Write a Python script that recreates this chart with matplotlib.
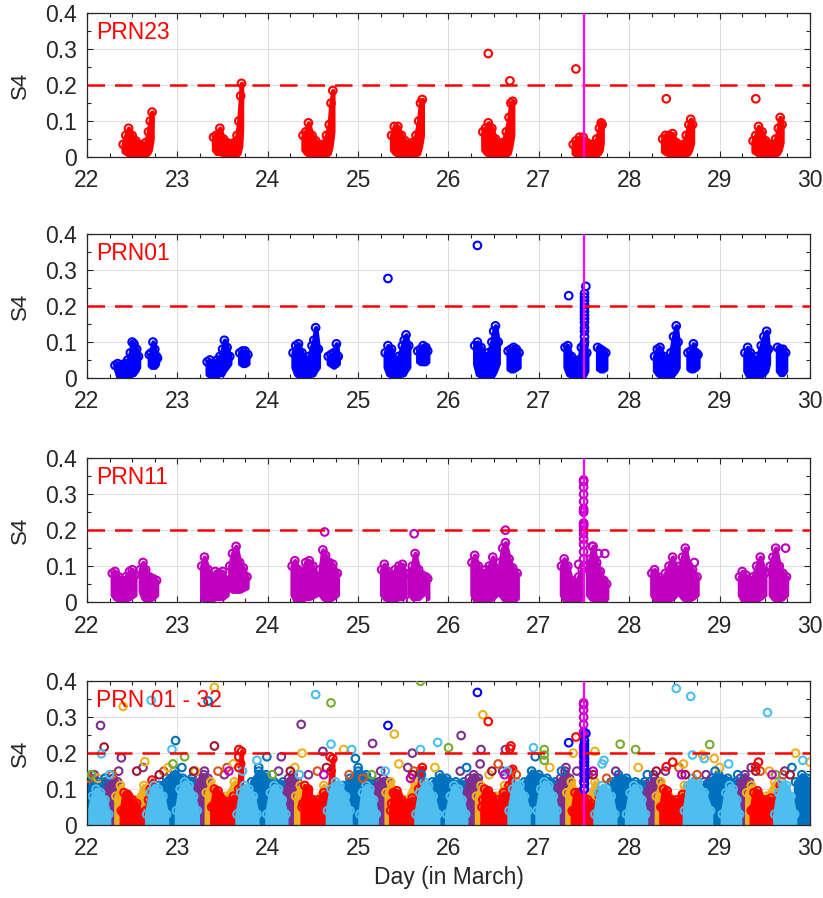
import matplotlib.pyplot as plt
from matplotlib.ticker import MultipleLocator, FuncFormatter

plt.rcParams['font.family'] = ['Liberation Sans', 'DejaVu Sans']

# colores
RED = '#FF0000'
BLUE = '#0000FF'
MAG = '#BF00BF'
C_DBLUE = '#0072BD'
C_ORANGE = '#D95319'
C_YELLOW = '#EDB120'
C_PURPLE = '#7E2F8E'
C_GREEN = '#77AC30'
C_LBLUE = '#4DBEEE'
C_DRED = '#A2142F'

# ---------------- PRN23 (one pass per day: t, lower and upper edge of the cloud)
prn23_t = [
    [22.40, 22.43, 22.46, 22.50, 22.54, 22.58, 22.62, 22.65, 22.68, 22.70, 22.72],
    [23.40, 23.43, 23.47, 23.51, 23.55, 23.59, 23.63, 23.66, 23.68, 23.70, 23.71],
    [24.39, 24.42, 24.45, 24.49, 24.53, 24.57, 24.61, 24.65, 24.68, 24.70, 24.72],
    [25.37, 25.40, 25.44, 25.48, 25.52, 25.56, 25.60, 25.64, 25.67, 25.69, 25.71],
    [26.38, 26.41, 26.44, 26.48, 26.52, 26.56, 26.60, 26.64, 26.67, 26.69, 26.71],
    [27.38, 27.41, 27.45, 27.49, 27.53, 27.57, 27.61, 27.64, 27.67, 27.69, 27.70],
    [28.37, 28.40, 28.44, 28.48, 28.52, 28.56, 28.60, 28.63, 28.66, 28.68, 28.70],
    [29.37, 29.40, 29.43, 29.47, 29.51, 29.55, 29.59, 29.62, 29.65, 29.67, 29.69],
]
prn23_hi = [
    [0.035, 0.06, 0.08, 0.06, 0.045, 0.035, 0.03, 0.04, 0.07, 0.10, 0.125],
    [0.055, 0.06, 0.08, 0.05, 0.04, 0.035, 0.04, 0.06, 0.10, 0.17, 0.205],
    [0.06, 0.07, 0.095, 0.06, 0.045, 0.03, 0.035, 0.06, 0.09, 0.15, 0.185],
    [0.06, 0.085, 0.085, 0.06, 0.045, 0.035, 0.04, 0.06, 0.10, 0.15, 0.16],
    [0.07, 0.08, 0.095, 0.08, 0.05, 0.035, 0.04, 0.07, 0.11, 0.15, 0.155],
    [0.035, 0.045, 0.055, 0.055, 0.04, 0.035, 0.035, 0.05, 0.08, 0.095, 0.09],
    [0.05, 0.06, 0.06, 0.065, 0.04, 0.03, 0.035, 0.06, 0.09, 0.105, 0.09],
    [0.045, 0.06, 0.085, 0.07, 0.045, 0.035, 0.035, 0.05, 0.08, 0.11, 0.09],
]
prn23_lo = [
    [0.015, 0.01, 0.005, 0.005, 0.005, 0.0, 0.0, 0.005, 0.01, 0.02, 0.05],
    [0.02, 0.01, 0.01, 0.005, 0.0, 0.0, 0.0, 0.005, 0.01, 0.03, 0.08],
    [0.02, 0.01, 0.005, 0.005, 0.0, 0.0, 0.0, 0.005, 0.01, 0.03, 0.07],
    [0.02, 0.01, 0.005, 0.005, 0.0, 0.0, 0.0, 0.005, 0.01, 0.03, 0.06],
    [0.02, 0.01, 0.005, 0.005, 0.0, 0.0, 0.0, 0.005, 0.01, 0.03, 0.06],
    [0.01, 0.005, 0.005, 0.0, 0.0, 0.0, 0.0, 0.005, 0.01, 0.02, 0.04],
    [0.015, 0.01, 0.005, 0.0, 0.0, 0.0, 0.0, 0.005, 0.01, 0.02, 0.04],
    [0.015, 0.01, 0.005, 0.0, 0.0, 0.0, 0.0, 0.005, 0.01, 0.02, 0.04],
]
prn23_out_t = [26.44, 26.68, 27.41, 28.41, 29.40]
prn23_out_s4 = [0.288, 0.212, 0.245, 0.162, 0.162]

# ---------------- PRN01 (main pass + short second pass each day)
prn01_t = [
    [22.31, 22.34, 22.38, 22.42, 22.45, 22.48, 22.50, 22.52, 22.55, 22.57],
    [22.69, 22.71, 22.73, 22.75, 22.77, 22.78],
    [23.33, 23.36, 23.40, 23.44, 23.47, 23.50, 23.52, 23.55, 23.58],
    [23.69, 23.72, 23.75, 23.78],
    [24.28, 24.31, 24.34, 24.38, 24.42, 24.46, 24.49, 24.51, 24.53, 24.56],
    [24.67, 24.70, 24.73, 24.76, 24.78],
    [25.30, 25.33, 25.37, 25.41, 25.45, 25.49, 25.51, 25.53, 25.56],
    [25.66, 25.69, 25.72, 25.75, 25.77],
    [26.29, 26.32, 26.36, 26.40, 26.44, 26.48, 26.50, 26.52, 26.55],
    [26.66, 26.69, 26.72, 26.75, 26.78],
    [27.29, 27.32, 27.36, 27.40, 27.44, 27.47, 27.50, 27.53],
    [27.65, 27.68, 27.71, 27.74],
    [28.28, 28.31, 28.34, 28.38, 28.42, 28.46, 28.49, 28.52, 28.54],
    [28.65, 28.68, 28.71, 28.74, 28.76],
    [29.28, 29.31, 29.34, 29.38, 29.42, 29.46, 29.49, 29.52, 29.54],
    [29.64, 29.67, 29.70, 29.73],
]
prn01_hi = [
    [0.035, 0.04, 0.035, 0.04, 0.05, 0.07, 0.10, 0.095, 0.08, 0.06],
    [0.065, 0.07, 0.10, 0.08, 0.06, 0.055],
    [0.045, 0.05, 0.04, 0.05, 0.06, 0.08, 0.105, 0.085, 0.06],
    [0.07, 0.075, 0.075, 0.065],
    [0.07, 0.09, 0.095, 0.07, 0.05, 0.06, 0.09, 0.105, 0.14, 0.08],
    [0.06, 0.065, 0.07, 0.095, 0.06],
    [0.07, 0.09, 0.08, 0.05, 0.06, 0.09, 0.105, 0.12, 0.09],
    [0.075, 0.08, 0.09, 0.085, 0.075],
    [0.09, 0.10, 0.085, 0.06, 0.07, 0.10, 0.13, 0.145, 0.10],
    [0.075, 0.08, 0.085, 0.08, 0.07],
    [0.085, 0.09, 0.06, 0.045, 0.05, 0.085, 0.09, 0.07],
    [0.085, 0.08, 0.075, 0.07],
    [0.06, 0.08, 0.085, 0.06, 0.05, 0.07, 0.115, 0.145, 0.10],
    [0.07, 0.075, 0.095, 0.07, 0.065],
    [0.07, 0.085, 0.07, 0.05, 0.06, 0.09, 0.115, 0.13, 0.08],
    [0.085, 0.08, 0.08, 0.07],
]
prn01_lo = [
    [0.03, 0.005, 0.005, 0.005, 0.005, 0.005, 0.01, 0.01, 0.02, 0.03],
    [0.035, 0.03, 0.03, 0.03, 0.035, 0.04],
    [0.01, 0.005, 0.0, 0.005, 0.01, 0.01, 0.02, 0.03, 0.04],
    [0.04, 0.035, 0.035, 0.04],
    [0.03, 0.01, 0.005, 0.005, 0.005, 0.005, 0.01, 0.01, 0.02, 0.03],
    [0.04, 0.035, 0.03, 0.035, 0.04],
    [0.03, 0.01, 0.005, 0.005, 0.005, 0.01, 0.01, 0.02, 0.03],
    [0.045, 0.04, 0.04, 0.04, 0.045],
    [0.04, 0.01, 0.005, 0.0, 0.0, 0.005, 0.01, 0.02, 0.04],
    [0.025, 0.02, 0.02, 0.025, 0.03],
    [0.03, 0.01, 0.005, 0.0, 0.0, 0.0, 0.005, 0.02],
    [0.025, 0.02, 0.02, 0.025],
    [0.02, 0.01, 0.005, 0.0, 0.0, 0.005, 0.01, 0.02, 0.03],
    [0.025, 0.02, 0.02, 0.025, 0.03],
    [0.02, 0.005, 0.0, 0.0, 0.0, 0.005, 0.01, 0.02, 0.04],
    [0.02, 0.01, 0.01, 0.02],
]
prn01_spike_t = 27.505
prn01_spike_s4 = [0.10, 0.115, 0.13, 0.14, 0.155, 0.165, 0.175, 0.185,
                  0.195, 0.205, 0.215, 0.225, 0.235]
prn01_out_t = [25.33, 26.32, 27.33, 27.52]
prn01_out_s4 = [0.277, 0.369, 0.229, 0.255]

# ---------------- PRN11 (two passes per day)
prn11_t = [
    [22.28, 22.31, 22.35, 22.39, 22.43, 22.47, 22.50, 22.53],
    [22.59, 22.62, 22.65, 22.69, 22.73, 22.77],
    [23.27, 23.30, 23.34, 23.38, 23.42, 23.46, 23.50, 23.55],
    [23.58, 23.61, 23.65, 23.69, 23.73, 23.77],
    [24.27, 24.30, 24.34, 24.38, 24.42, 24.46, 24.50, 24.54],
    [24.58, 24.61, 24.64, 24.68, 24.72, 24.77],
    [25.26, 25.29, 25.33, 25.37, 25.41, 25.45, 25.49, 25.52],
    [25.57, 25.60, 25.63, 25.67, 25.71, 25.75, 25.77],
    [26.26, 26.29, 26.33, 26.37, 26.41, 26.45, 26.49, 26.53],
    [26.57, 26.60, 26.63, 26.67, 26.71, 26.76],
    [27.25, 27.28, 27.32, 27.36, 27.40, 27.44, 27.48],
    [27.54, 27.57, 27.60, 27.64, 27.68, 27.72, 27.75],
    [28.25, 28.28, 28.32, 28.36, 28.40, 28.44, 28.48, 28.52],
    [28.56, 28.59, 28.62, 28.66, 28.70, 28.75],
    [29.22, 29.25, 29.29, 29.33, 29.37, 29.41, 29.45, 29.50],
    [29.56, 29.59, 29.62, 29.66, 29.70, 29.74],
]
prn11_hi = [
    [0.08, 0.085, 0.07, 0.06, 0.07, 0.085, 0.09, 0.075],
    [0.09, 0.11, 0.09, 0.07, 0.065, 0.06],
    [0.10, 0.125, 0.09, 0.07, 0.085, 0.08, 0.085, 0.06],
    [0.10, 0.135, 0.155, 0.11, 0.095, 0.07],
    [0.10, 0.115, 0.09, 0.08, 0.11, 0.115, 0.10, 0.07],
    [0.09, 0.145, 0.13, 0.11, 0.105, 0.08],
    [0.09, 0.105, 0.085, 0.07, 0.09, 0.10, 0.105, 0.08],
    [0.08, 0.10, 0.135, 0.09, 0.075, 0.07, 0.065],
    [0.11, 0.13, 0.10, 0.08, 0.09, 0.10, 0.125, 0.09],
    [0.11, 0.15, 0.165, 0.12, 0.095, 0.08],
    [0.10, 0.12, 0.10, 0.06, 0.05, 0.07, 0.09],
    [0.10, 0.12, 0.155, 0.11, 0.085, 0.06, 0.05],
    [0.08, 0.09, 0.07, 0.06, 0.08, 0.10, 0.125, 0.09],
    [0.10, 0.125, 0.15, 0.10, 0.09, 0.07],
    [0.07, 0.085, 0.075, 0.06, 0.07, 0.10, 0.125, 0.08],
    [0.10, 0.125, 0.15, 0.10, 0.08, 0.07],
]
prn11_lo = [
    [0.02, 0.01, 0.005, 0.005, 0.005, 0.01, 0.015, 0.02],
    [0.03, 0.01, 0.005, 0.005, 0.01, 0.02],
    [0.01, 0.0, 0.0, 0.005, 0.01, 0.01, 0.01, 0.02],
    [0.035, 0.03, 0.03, 0.03, 0.035, 0.04],
    [0.02, 0.005, 0.0, 0.005, 0.01, 0.01, 0.015, 0.02],
    [0.02, 0.01, 0.005, 0.005, 0.01, 0.02],
    [0.02, 0.01, 0.005, 0.005, 0.005, 0.01, 0.01, 0.02],
    [0.02, 0.01, 0.01, 0.01, 0.02, 0.03, 0.01],
    [0.02, 0.005, 0.0, 0.0, 0.005, 0.005, 0.01, 0.02],
    [0.02, 0.01, 0.0, 0.0, 0.005, 0.01],
    [0.02, 0.005, 0.0, 0.0, 0.0, 0.005, 0.01],
    [0.02, 0.01, 0.005, 0.0, 0.0, 0.005, 0.01],
    [0.02, 0.005, 0.0, 0.0, 0.0, 0.005, 0.01, 0.02],
    [0.02, 0.01, 0.005, 0.005, 0.01, 0.02],
    [0.02, 0.005, 0.0, 0.0, 0.0, 0.005, 0.01, 0.02],
    [0.02, 0.01, 0.005, 0.005, 0.01, 0.02],
]
prn11_spike_t = 27.495
prn11_spike_s4 = [0.10, 0.12, 0.14, 0.16, 0.175, 0.19, 0.20, 0.21, 0.215, 0.22,
                  0.25, 0.255, 0.26, 0.28, 0.30, 0.32, 0.335, 0.34]
prn11_out_t = [24.63, 25.62, 25.58, 26.63, 27.44, 27.59, 27.66, 27.73, 28.72, 29.73]
prn11_out_s4 = [0.195, 0.19, 0.005, 0.20, 0.105, 0.155, 0.135, 0.135, 0.11, 0.15]

# ---------------- PRN 01 - 32 (all satellites)
bot_dblue_t = [
    [21.99, 22.05, 22.12, 22.20, 22.28],
    [22.80, 22.88, 22.97, 23.06, 23.16, 23.27],
    [23.82, 23.90, 23.98, 24.07, 24.17, 24.27],
    [24.83, 24.91, 25.00, 25.09, 25.18, 25.27],
    [25.82, 25.90, 25.98, 26.08, 26.17, 26.27],
    [26.84, 26.92, 27.00, 27.09, 27.18, 27.28],
    [27.80, 27.88, 27.97, 28.07, 28.17, 28.27],
    [28.83, 28.91, 28.99, 29.09, 29.18, 29.27],
    [29.84, 29.91, 29.97, 30.01],
]
bot_dblue_hi = [
    [0.12, 0.13, 0.12, 0.13, 0.10],
    [0.11, 0.13, 0.15, 0.13, 0.13, 0.10],
    [0.12, 0.15, 0.14, 0.12, 0.12, 0.09],
    [0.11, 0.13, 0.15, 0.14, 0.12, 0.10],
    [0.12, 0.14, 0.13, 0.12, 0.12, 0.09],
    [0.12, 0.15, 0.14, 0.13, 0.12, 0.10],
    [0.12, 0.14, 0.13, 0.12, 0.12, 0.09],
    [0.12, 0.13, 0.14, 0.13, 0.12, 0.10],
    [0.12, 0.14, 0.13, 0.12],
]
bot_purple_t = [
    [22.19, 22.24, 22.29, 22.34, 22.40],
    [23.19, 23.24, 23.29, 23.34, 23.40],
    [24.18, 24.23, 24.28, 24.33, 24.39],
    [25.18, 25.23, 25.28, 25.33, 25.39],
    [26.18, 26.23, 26.28, 26.33, 26.39],
    [27.19, 27.24, 27.29, 27.34, 27.40],
    [28.18, 28.23, 28.28, 28.33, 28.39],
    [29.18, 29.23, 29.28, 29.33, 29.39],
]
bot_purple_hi = [
    [0.09, 0.12, 0.13, 0.12, 0.08],
    [0.10, 0.13, 0.14, 0.13, 0.09],
    [0.09, 0.13, 0.14, 0.12, 0.08],
    [0.10, 0.12, 0.13, 0.12, 0.08],
    [0.09, 0.13, 0.14, 0.13, 0.09],
    [0.10, 0.13, 0.15, 0.13, 0.09],
    [0.09, 0.12, 0.13, 0.12, 0.08],
    [0.10, 0.13, 0.14, 0.12, 0.09],
]
bot_yellow_t = [
    [22.32, 22.37, 22.46, 22.54, 22.63, 22.70],
    [23.32, 23.37, 23.46, 23.54, 23.63, 23.70],
    [24.31, 24.36, 24.45, 24.53, 24.62, 24.69],
    [25.31, 25.36, 25.45, 25.53, 25.62, 25.69],
    [26.31, 26.36, 26.45, 26.53, 26.62, 26.69],
    [27.31, 27.36, 27.45, 27.53, 27.62, 27.69],
    [28.30, 28.35, 28.44, 28.52, 28.61, 28.68],
    [29.30, 29.35, 29.44, 29.52, 29.61, 29.68],
]
bot_yellow_hi = [
    [0.08, 0.11, 0.08, 0.07, 0.11, 0.07],
    [0.09, 0.12, 0.08, 0.08, 0.12, 0.08],
    [0.08, 0.11, 0.08, 0.07, 0.11, 0.07],
    [0.09, 0.12, 0.08, 0.07, 0.12, 0.08],
    [0.08, 0.11, 0.08, 0.08, 0.11, 0.07],
    [0.09, 0.12, 0.08, 0.07, 0.12, 0.08],
    [0.08, 0.12, 0.08, 0.07, 0.11, 0.07],
    [0.09, 0.11, 0.08, 0.08, 0.12, 0.08],
]
bot_red_t = [
    [22.38, 22.41, 22.45, 22.50, 22.55, 22.59],
    [23.38, 23.41, 23.45, 23.50, 23.56, 23.62, 23.66],
    [24.38, 24.41, 24.45, 24.50, 24.56, 24.62, 24.66],
    [25.36, 25.39, 25.43, 25.48, 25.54, 25.60, 25.64],
    [26.37, 26.40, 26.44, 26.49, 26.55, 26.61, 26.65],
    [27.37, 27.40, 27.44, 27.49, 27.54, 27.58, 27.62],
    [28.35, 28.38, 28.42, 28.47, 28.53, 28.59, 28.64],
    [29.35, 29.38, 29.42, 29.47, 29.52, 29.57, 29.61],
]
bot_red_hi = [
    [0.04, 0.09, 0.085, 0.07, 0.06, 0.03],
    [0.05, 0.10, 0.095, 0.07, 0.065, 0.08, 0.04],
    [0.05, 0.11, 0.10, 0.07, 0.07, 0.09, 0.05],
    [0.04, 0.09, 0.095, 0.07, 0.06, 0.075, 0.04],
    [0.05, 0.10, 0.095, 0.07, 0.07, 0.09, 0.05],
    [0.04, 0.09, 0.09, 0.08, 0.07, 0.06, 0.03],
    [0.05, 0.10, 0.095, 0.07, 0.07, 0.085, 0.04],
    [0.04, 0.09, 0.095, 0.07, 0.07, 0.075, 0.04],
]
bot_lblue_t = [
    [22.02, 22.06, 22.10, 22.15, 22.20, 22.24],
    [22.66, 22.70, 22.74, 22.79, 22.84, 22.88],
    [22.99, 23.03, 23.08, 23.13, 23.18, 23.22],
    [23.66, 23.70, 23.74, 23.79, 23.84, 23.88],
    [23.99, 24.03, 24.07, 24.12, 24.16, 24.20],
    [24.66, 24.70, 24.75, 24.80, 24.86, 24.91],
    [25.02, 25.05, 25.09, 25.13, 25.17, 25.20],
    [25.64, 25.68, 25.73, 25.78, 25.83, 25.88],
    [25.98, 26.02, 26.06, 26.11, 26.15, 26.19],
    [26.67, 26.71, 26.75, 26.79, 26.84, 26.88],
    [26.98, 27.02, 27.06, 27.11, 27.16, 27.20],
    [27.62, 27.66, 27.70, 27.75, 27.80, 27.84],
    [27.97, 28.01, 28.05, 28.10, 28.14, 28.18],
    [28.61, 28.65, 28.70, 28.76, 28.83, 28.90],
    [29.03, 29.07, 29.11, 29.15, 29.19, 29.22],
    [29.61, 29.65, 29.69, 29.74, 29.79, 29.83],
]
bot_lblue_hi = [
    [0.03, 0.08, 0.10, 0.09, 0.07, 0.03],
    [0.03, 0.09, 0.11, 0.10, 0.08, 0.03],
    [0.04, 0.10, 0.12, 0.11, 0.08, 0.04],
    [0.03, 0.09, 0.11, 0.10, 0.08, 0.03],
    [0.03, 0.09, 0.11, 0.10, 0.07, 0.03],
    [0.04, 0.10, 0.12, 0.11, 0.08, 0.04],
    [0.03, 0.09, 0.11, 0.10, 0.07, 0.03],
    [0.03, 0.09, 0.12, 0.11, 0.08, 0.03],
    [0.03, 0.08, 0.11, 0.10, 0.07, 0.03],
    [0.04, 0.10, 0.12, 0.11, 0.08, 0.04],
    [0.04, 0.10, 0.12, 0.11, 0.08, 0.04],
    [0.03, 0.09, 0.11, 0.10, 0.08, 0.03],
    [0.03, 0.09, 0.11, 0.10, 0.07, 0.03],
    [0.04, 0.11, 0.13, 0.12, 0.09, 0.04],
    [0.03, 0.09, 0.11, 0.10, 0.07, 0.03],
    [0.03, 0.09, 0.12, 0.11, 0.08, 0.03],
]

# circles sticking out of the band (0.13 - 0.40), by colour
bot_pts_t = {
    C_PURPLE: [22.08, 22.15, 22.35, 22.38, 22.62, 23.30, 23.52, 24.12, 24.15, 24.37, 24.45, 24.61,
               25.16, 25.25, 25.55, 25.60, 26.13, 26.14, 26.35, 26.36, 26.60, 26.63, 27.30, 27.42,
               27.85, 28.27, 28.40, 28.85, 29.35, 29.72],
    C_ORANGE: [22.02, 22.28, 22.85, 23.45, 23.55, 24.55, 24.90, 25.05, 25.62, 26.55, 26.75,
               27.55, 27.75, 28.55, 28.75, 29.45, 29.70],
    C_YELLOW: [22.40, 23.41, 22.64, 24.38, 24.84, 25.40, 26.38, 27.38, 27.62, 28.81, 28.94, 29.84,
               30.00, 22.12, 22.90, 23.20, 23.62, 24.30, 25.45, 25.85, 26.45, 27.12, 28.10,
               28.60, 29.00, 29.55],
    C_GREEN: [25.69, 24.70, 23.08, 26.00, 27.06, 27.06, 27.06, 27.90, 28.07, 28.89, 22.05, 22.95,
              24.05, 25.15, 29.62],
    C_DBLUE: [23.34, 22.98, 23.99, 24.97, 26.96, 22.20, 23.05, 23.90, 25.00, 25.70, 26.20,
              27.25, 28.20, 28.95, 29.20, 29.80],
    C_DRED: [22.19, 23.41, 22.55, 22.80, 23.18, 24.25, 24.65, 25.60, 26.48, 27.60, 28.30, 28.62,
             29.40, 29.78],
    C_LBLUE: [22.71, 24.53, 28.52, 28.68, 29.53, 22.16, 22.94, 23.88, 24.70, 24.93, 25.88, 25.69,
              26.94, 27.72, 28.83, 28.70, 29.92, 22.25, 23.72, 24.35, 25.30, 26.65, 27.70, 29.10],
    RED: [23.68, 23.68, 23.68, 24.69, 26.69, 28.48, 29.43],
    MAG: [23.57, 24.62, 25.58, 26.62, 27.60, 28.58, 29.58],
}
bot_pts_s4 = {
    C_PURPLE: [0.14, 0.277, 0.15, 0.187, 0.16, 0.15, 0.14, 0.15, 0.19, 0.28, 0.14, 0.205,
               0.227, 0.15, 0.16, 0.20, 0.15, 0.249, 0.17, 0.21, 0.15, 0.21, 0.16, 0.15,
               0.15, 0.14, 0.15, 0.14, 0.16, 0.15],
    C_ORANGE: [0.13, 0.14, 0.15, 0.15, 0.16, 0.15, 0.14, 0.13, 0.15, 0.17, 0.14,
               0.14, 0.13, 0.16, 0.14, 0.15, 0.14],
    C_YELLOW: [0.33, 0.383, 0.176, 0.20, 0.21, 0.253, 0.307, 0.20, 0.205, 0.195, 0.185, 0.20,
               0.175, 0.13, 0.16, 0.15, 0.17, 0.16, 0.17, 0.16, 0.14, 0.16, 0.16,
               0.17, 0.16, 0.15],
    C_GREEN: [0.40, 0.34, 0.19, 0.215, 0.21, 0.195, 0.18, 0.225, 0.21, 0.224, 0.14, 0.17,
              0.14, 0.14, 0.14],
    C_DBLUE: [0.345, 0.235, 0.19, 0.185, 0.19, 0.13, 0.16, 0.16, 0.16, 0.14, 0.16,
              0.15, 0.14, 0.15, 0.14, 0.16],
    C_DRED: [0.217, 0.22, 0.15, 0.14, 0.15, 0.15, 0.16, 0.14, 0.15, 0.14, 0.15, 0.14,
             0.15, 0.14],
    C_LBLUE: [0.347, 0.363, 0.38, 0.358, 0.313, 0.198, 0.21, 0.18, 0.225, 0.21, 0.23, 0.21,
              0.215, 0.18, 0.185, 0.195, 0.18, 0.14, 0.15, 0.14, 0.15, 0.15, 0.17, 0.17],
    RED: [0.16, 0.19, 0.21, 0.19, 0.22, 0.175, 0.175],
    MAG: [0.15, 0.14, 0.13, 0.14, 0.15, 0.14, 0.14],
}

MS = 30      # scatter marker area
MLW = 1.5


def cloud(ax, t, lo, hi, color, z=2):
    # dense scatter cloud: filled body + circles along the top edge
    ax.fill_between(t, lo, hi, color=color, lw=3.2, joinstyle='round', zorder=z)
    ax.scatter(t, hi, s=MS, facecolors='none', edgecolors=color, linewidths=MLW, zorder=z)


def circles(ax, t, s4, color, z=3):
    ax.scatter(t, s4, s=MS, facecolors='none', edgecolors=color, linewidths=MLW, zorder=z)


def style(ax, title):
    ax.set_xlim(22, 30)
    ax.set_ylim(0, 0.4)
    ax.xaxis.set_major_locator(MultipleLocator(1))
    ax.xaxis.set_minor_locator(MultipleLocator(0.25))
    ax.yaxis.set_major_locator(MultipleLocator(0.1))
    ax.yaxis.set_minor_locator(MultipleLocator(0.05))
    ax.yaxis.set_major_formatter(FuncFormatter(lambda v, p: f'{v:g}'))
    ax.grid(True, which='major', color='#dedede', lw=0.8, zorder=0)
    ax.set_axisbelow(True)
    ax.tick_params(which='both', direction='in', top=True, right=True,
                   labelsize=16.5, colors='#262626', width=0.8)
    ax.tick_params(which='major', length=4.5)
    ax.tick_params(which='minor', length=3)
    ax.tick_params(axis='x', pad=9)
    ax.tick_params(axis='y', pad=7)
    for s in ax.spines.values():
        s.set_color('#262626')
        s.set_linewidth(0.9)
    ax.set_ylabel('S4', fontsize=16, color='#262626')
    ax.yaxis.set_label_coords(-0.078, 0.5)
    ax.axhline(0.2, color=RED, lw=1.8, ls=(0, (7, 4)), zorder=5)
    ax.axvline(27.5, color='#FF00FF', lw=1.6, zorder=6)
    ax.text(0.012, 0.865, title, transform=ax.transAxes, color=RED, fontsize=16.5,
            va='center', ha='left', zorder=4)


fig = plt.figure(figsize=(8.23, 8.98), dpi=100)
L, W, H = 0.1057, 0.8785, 0.160
ax1 = fig.add_axes([L, 0.8252, W, H])
ax2 = fig.add_axes([L, 0.5791, W, H])
ax3 = fig.add_axes([L, 0.3296, W, H])
ax4 = fig.add_axes([L, 0.0813, W, H])

# PRN23
for t, lo, hi in zip(prn23_t, prn23_lo, prn23_hi):
    cloud(ax1, t, lo, hi, RED)
circles(ax1, prn23_out_t, prn23_out_s4, RED)

# PRN01
for t, lo, hi in zip(prn01_t, prn01_lo, prn01_hi):
    cloud(ax2, t, lo, hi, BLUE)
circles(ax2, [prn01_spike_t] * len(prn01_spike_s4), prn01_spike_s4, BLUE)
circles(ax2, prn01_out_t, prn01_out_s4, BLUE)

# PRN11
for t, lo, hi in zip(prn11_t, prn11_lo, prn11_hi):
    cloud(ax3, t, lo, hi, MAG)
circles(ax3, [prn11_spike_t] * len(prn11_spike_s4), prn11_spike_s4, MAG)
circles(ax3, prn11_out_t, prn11_out_s4, MAG)

# PRN 01 - 32
for t, hi in zip(bot_dblue_t, bot_dblue_hi):
    cloud(ax4, t, [0.0] * len(t), hi, C_DBLUE)
for t, hi in zip(bot_purple_t, bot_purple_hi):
    cloud(ax4, t, [0.0] * len(t), hi, C_PURPLE)
for t, hi in zip(bot_yellow_t, bot_yellow_hi):
    cloud(ax4, t, [0.0] * len(t), hi, C_YELLOW)
for t, lo, hi in zip(prn23_t, prn23_lo, prn23_hi):
    cloud(ax4, t, lo, hi, RED)
for t, hi in zip(bot_red_t, bot_red_hi):
    cloud(ax4, t, [0.0] * len(t), hi, RED)
for t, hi in zip(bot_lblue_t, bot_lblue_hi):
    cloud(ax4, t, [0.0] * len(t), hi, C_LBLUE)
for c in bot_pts_t:
    circles(ax4, bot_pts_t[c], bot_pts_s4[c], c, z=4)
circles(ax4, [prn11_spike_t] * len(prn11_spike_s4), prn11_spike_s4, MAG, z=4)
circles(ax4, [prn01_spike_t] * len(prn01_spike_s4), prn01_spike_s4, BLUE, z=4)
circles(ax4, prn01_out_t, prn01_out_s4, BLUE, z=4)
circles(ax4, prn23_out_t, prn23_out_s4, RED, z=4)

style(ax1, 'PRN23')
style(ax2, 'PRN01')
style(ax3, 'PRN11')
style(ax4, 'PRN 01 - 32')
ax4.set_xlabel('Day (in March)', fontsize=16.5, color='#262626', labelpad=4)

fig.savefig('out.png', dpi=100)
